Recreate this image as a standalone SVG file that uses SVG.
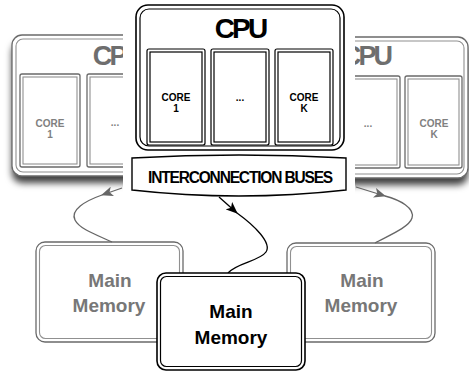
<svg xmlns="http://www.w3.org/2000/svg" width="469" height="371" viewBox="0 0 469 371">
  <defs>
    <filter id="dropShadow" x="-10%" y="-10%" width="125%" height="135%">
      <feDropShadow dx="0" dy="7" stdDeviation="3.5" flood-color="#000" flood-opacity="0.75"/>
    </filter>
    <marker id="headDark" viewBox="0 0 12 10" refX="11" refY="5" markerWidth="12" markerHeight="10" markerUnits="userSpaceOnUse" orient="auto">
      <path d="M0,0 L12,5 L0,10 L3,5 Z" fill="#000"/>
    </marker>
    <marker id="headFaded" viewBox="0 0 12 10" refX="11" refY="5" markerWidth="12" markerHeight="10" markerUnits="userSpaceOnUse" orient="auto">
      <path d="M0,0 L12,5 L0,10 L3,5 Z" fill="#666"/>
    </marker>
  </defs>
  <style>
    text { font-family: "Liberation Sans", Arial, sans-serif; font-weight: bold; text-anchor: middle; }
    .box { fill: #fff; }
    .dk { fill: none; stroke: #000; stroke-width: 1.6; }
    .dkIn { fill: none; stroke: #000; stroke-width: 1.2; }
    .fd { fill: none; stroke: #6a6a6a; stroke-width: 1.3; }
    .fdIn { fill: none; stroke: #909090; stroke-width: 1.1; }
    .cpuDk { font-size: 28px; letter-spacing: -2.8px; fill: #000; }
    .cpuFd { font-size: 27px; letter-spacing: -2.8px; fill: #6e6e6e; }
    .coreDk { font-size: 10px; fill: #000; }
    .coreFd { font-size: 10px; fill: #808080; }
    .memDk { font-size: 19px; fill: #000; }
    .memFd { font-size: 19px; fill: #777; }
    .linkDk { fill: none; stroke: #000; stroke-width: 1.3; }
    .linkFd { fill: none; stroke: #666; stroke-width: 1.3; }
  </style>

  <!-- side memories (faded, behind) -->
  <g id="memLeft">
    <rect class="box" x="36" y="242" width="147" height="100" rx="9"/>
    <rect class="fd" x="36" y="242" width="147" height="100" rx="9"/>
    <rect class="fdIn" x="39.5" y="245.5" width="140" height="93" rx="6"/>
    <text class="memFd" x="110" y="287">Main</text>
    <text class="memFd" x="109" y="312">Memory</text>
  </g>
  <g id="memRight">
    <rect class="box" x="287" y="243" width="148" height="99" rx="9"/>
    <rect class="fd" x="287" y="243" width="148" height="99" rx="9"/>
    <rect class="fdIn" x="290.5" y="246.5" width="141" height="92" rx="6"/>
    <text class="memFd" x="362" y="287">Main</text>
    <text class="memFd" x="361" y="312">Memory</text>
  </g>

  <!-- side CPUs (faded, with drop shadow) -->
  <g id="cpuLeft">
    <rect x="12" y="35" width="212" height="141" rx="10" fill="#fff" filter="url(#dropShadow)"/>
    <rect class="fd" x="12" y="35" width="212" height="141" rx="10"/>
    <rect class="fdIn" x="16" y="39" width="204" height="133" rx="7"/>
    <text class="cpuFd" x="117" y="65">CPU</text>
    <rect class="fd" x="20" y="74" width="60" height="93" rx="2"/>
    <rect class="fdIn" x="23" y="77" width="54" height="87"/>
    <text class="coreFd" x="50" y="127">CORE</text>
    <text class="coreFd" x="50" y="138">1</text>
    <rect class="fd" x="87" y="74" width="60" height="93" rx="2"/>
    <rect class="fdIn" x="90" y="77" width="54" height="87"/>
    <text class="coreFd" x="115" y="126">...</text>
  </g>
  <g id="cpuRight">
    <rect x="262" y="37" width="206" height="141" rx="10" fill="#fff" filter="url(#dropShadow)"/>
    <rect class="fd" x="262" y="37" width="206" height="141" rx="10"/>
    <rect class="fdIn" x="266" y="41" width="198" height="133" rx="7"/>
    <text class="cpuFd" x="366" y="65">CPU</text>
    <rect class="fd" x="340" y="76" width="60" height="92" rx="2"/>
    <rect class="fdIn" x="343" y="79" width="54" height="86"/>
    <text class="coreFd" x="368" y="127">...</text>
    <rect class="fd" x="405" y="76" width="57" height="92" rx="2"/>
    <rect class="fdIn" x="408" y="79" width="51" height="86"/>
    <text class="coreFd" x="434" y="127">CORE</text>
    <text class="coreFd" x="434" y="138">K</text>
  </g>

  <!-- clear area behind the front CPU -->
  <rect x="123" y="0" width="232" height="200" fill="#fff"/>

  <!-- front CPU -->
  <g id="cpuFront">
    <rect class="box" x="136" y="5" width="208" height="145" rx="12"/>
    <rect class="dk" x="136" y="5" width="208" height="145" rx="12" stroke-width="2"/>
    <rect class="dkIn" x="140" y="9" width="200" height="137" rx="9"/>
    <text class="cpuDk" x="240" y="38">CPU</text>
    <rect class="dkIn" x="147" y="49" width="58" height="96" rx="2"/>
    <rect class="dkIn" x="150" y="52" width="52" height="90"/>
    <text class="coreDk" x="176" y="101">CORE</text>
    <text class="coreDk" x="176" y="112">1</text>
    <rect class="dkIn" x="211" y="49" width="58" height="96" rx="2"/>
    <rect class="dkIn" x="214" y="52" width="52" height="90"/>
    <text class="coreDk" x="240" y="101">...</text>
    <rect class="dkIn" x="275" y="49" width="58" height="96" rx="2"/>
    <rect class="dkIn" x="278" y="52" width="52" height="90"/>
    <text class="coreDk" x="304" y="101">CORE</text>
    <text class="coreDk" x="304" y="112">K</text>
  </g>
  <g id="buses">
    <path d="M132,158 Q239,152 346,158 L346,190 Q239,202 132,190 Z" fill="#fff" stroke="#000" stroke-width="1.4"/>
    <text x="240" y="183" font-size="16" letter-spacing="-1.2" textLength="184" lengthAdjust="spacingAndGlyphs">INTERCONNECTION BUSES</text>
  </g>

  <!-- connectors -->
  <g id="connectors">
    <path class="linkFd" d="M122,188 L102,195" marker-end="url(#headFaded)"/>
    <path class="linkFd" d="M102,195 C85,201 70,210 75,220 C80,230 100,236 112,242"/>
    <path class="linkFd" d="M356,187 L385,196" marker-end="url(#headFaded)"/>
    <path class="linkFd" d="M385,196 C400,200 415,208 412,218 C409,228 385,237 375,243"/>
    <path class="linkDk" d="M219,197 L237,213" marker-end="url(#headDark)"/>
    <path class="linkDk" d="M237,213 C255,226 272,243 266,252 C260,261 236,263 228,273"/>
  </g>

  <!-- front memory -->
  <g id="memFront">
    <rect class="box" x="157" y="273" width="148" height="97" rx="9"/>
    <rect class="dk" x="157" y="273" width="148" height="97" rx="9"/>
    <rect class="dkIn" x="160.5" y="276.5" width="141" height="90" rx="6"/>
    <text class="memDk" x="231" y="318">Main</text>
    <text class="memDk" x="231" y="344">Memory</text>
  </g>
</svg>
